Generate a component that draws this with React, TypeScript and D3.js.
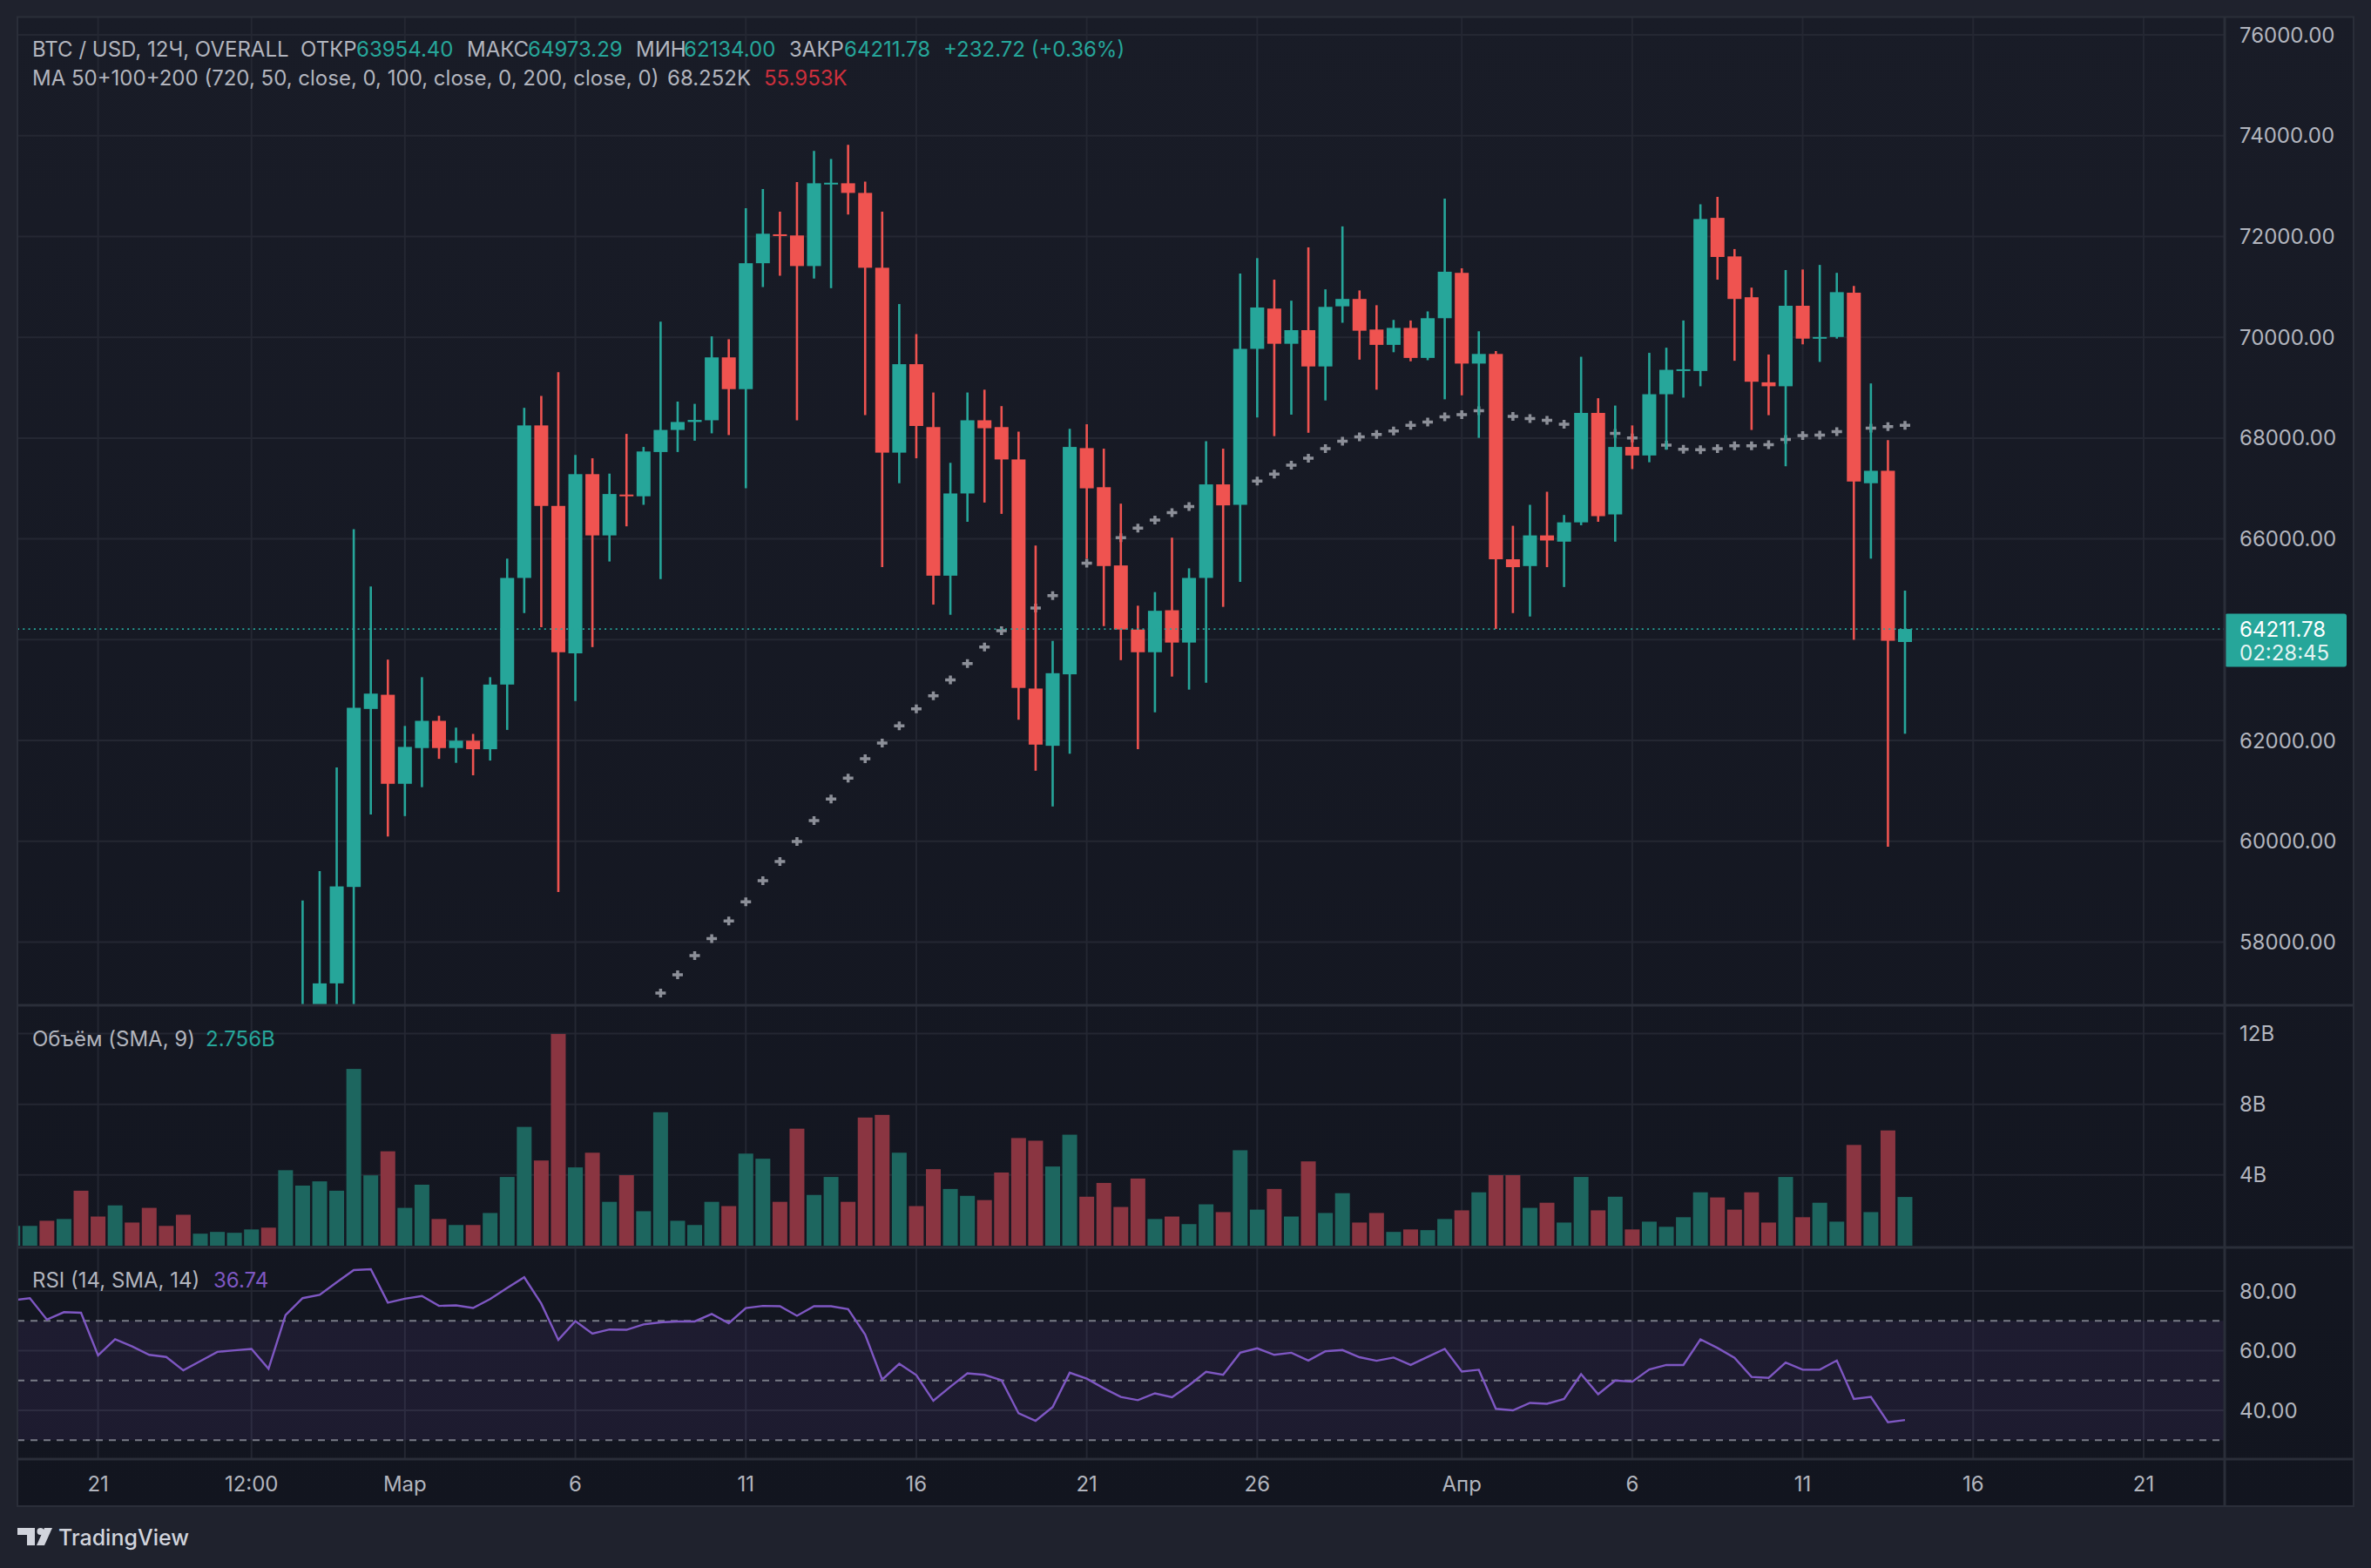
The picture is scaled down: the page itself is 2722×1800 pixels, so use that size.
import React from 'react'
import * as d3 from 'd3'

// 12h candles, first one is 18 Feb 2024 12:00 UTC
const startTime = Date.UTC(2024, 1, 18, 12)
const HALF_DAY = 12 * 3600 * 1000

const opens = [
  51700, 52150, 52300, 51800, 52600, 52200, 51500, 52100, 51600, 51200,
  51000, 50700, 51200, 51500, 51700, 51800, 51300, 54500, 56300, 57181,
  59094, 62626, 62907, 61141, 61850, 62390, 61850, 61996, 61827, 63110,
  65225, 68251, 66654, 63729, 67284, 66069, 66879, 66845, 67723, 68161,
  68319, 68353, 69601, 68971, 71469, 72043, 72020, 71413, 73055, 73055,
  72864, 71379, 67711, 69466, 68218, 65270, 66901, 68353, 68218, 67576,
  63031, 61895, 63313, 67801, 67025, 65473, 64201, 63751, 64584, 63943,
  65225, 67081, 66676, 69770, 70569, 69871, 70141, 69421, 70614, 70760,
  70153, 69849, 70186, 69590, 70378, 71278, 69478, 69669, 65596, 65461,
  66069, 65945, 66328, 68499, 66485, 67824, 67655, 68870, 69343, 69331,
  72369, 71604, 70794, 69106, 69028, 70625, 69973, 70006, 70884, 67104,
  67351, 63954.4,
]
const highs = [
  52400, 52500, 52450, 52950, 52900, 52400, 52300, 52200, 51900, 51600,
  51400, 51300, 51700, 51900, 52000, 51900, 54800, 58824, 59409, 61467,
  66192, 65056, 63605, 62289, 63256, 62491, 62255, 62131, 63256, 65608,
  68600, 68836, 69309, 67666, 67599, 67295, 68083, 67824, 70310, 68724,
  68679, 70018, 69961, 72560, 72943, 72493, 73078, 73696, 73539, 73820,
  73089, 72493, 70659, 70063, 68904, 67509, 68904, 68960, 68634, 68128,
  65866, 63976, 68184, 68274, 67790, 66699, 64674, 64944, 66024, 65416,
  67936, 67790, 71266, 71570, 71143, 70726, 71784, 70951, 72200, 70929,
  70636, 70344, 70333, 70513, 72751, 71368, 70119, 69725, 66260, 66676,
  66935, 66474, 69613, 68791, 68645, 68251, 69691, 69793, 70333, 72639,
  72785, 71750, 70985, 69658, 71334, 71345, 71435, 71278, 71019, 69084,
  67959, 64973.29,
]
const lows = [
  51500, 51800, 51600, 51000, 51600, 51000, 50900, 51200, 50700, 50800,
  50500, 50600, 51000, 51300, 51400, 50900, 51000, 54200, 55800, 56500,
  56300, 60534, 60095, 60500, 61074, 61636, 61557, 61310, 61602, 62210,
  64528, 64246, 58993, 62784, 63853, 65551, 66249, 66676, 65202, 67723,
  67948, 68094, 68060, 67003, 70996, 71221, 68353, 71165, 70974, 72436,
  68454, 65439, 67104, 67599, 64696, 64494, 66339, 66721, 66496, 62413,
  61400, 60691, 61738, 65608, 64269, 63594, 61828, 62559, 63268, 63009,
  63144, 64651, 65146, 68409, 68038, 68465, 68105, 68746, 70288, 69556,
  68960, 69703, 69523, 69545, 68769, 68848, 68004, 64213, 64528, 64460,
  65439, 65045, 66271, 66339, 65945, 67385, 67520, 67768, 68803, 69028,
  71143, 69534, 68161, 68454, 67441, 69860, 69511, 69973, 63999, 65608,
  59893, 62134.0,
]
const closes = [
  52150, 52300, 51800, 52600, 52200, 51500, 52100, 51600, 51200, 51000,
  50700, 51200, 51500, 51700, 51800, 51300, 54500, 56300, 57181, 59105,
  62649, 62930, 61141, 61873, 62390, 61850, 61996, 61827, 63110, 65225,
  68251, 66654, 63751, 67284, 66069, 66890, 66845, 67734, 68161, 68319,
  68360, 69601, 68971, 71469, 72054, 72009, 71413, 73055, 73066, 72864,
  71379, 67711, 69466, 68240, 65270, 66901, 68353, 68195, 67576, 63043,
  61918, 63335, 67824, 67003, 65461, 64201, 63751, 64573, 63943, 65225,
  67081, 66665, 69770, 70591, 69871, 70141, 69421, 70603, 70760, 70130,
  69849, 70186, 69590, 70378, 71300, 69478, 69669, 65596, 65439, 66069,
  65968, 66328, 68499, 66451, 67824, 67655, 68870, 69354, 69365, 72346,
  71593, 70760, 69118, 69028, 70625, 69973, 70006, 70895, 67138, 67351,
  63979.06, 64211.78,
]
// volume, billions
const volumes = [
  1.12, 1.12, 1.41, 1.51, 3.11, 1.65, 2.28, 1.31, 2.14, 1.12,
  1.75, 0.68, 0.78, 0.73, 0.92, 1.02, 4.27, 3.4, 3.64, 3.11,
  10.0, 3.98, 5.34, 2.14, 3.45, 1.51, 1.17, 1.17, 1.85, 3.89,
  6.72, 4.82, 11.98, 4.43, 5.26, 2.48, 3.99, 1.95, 7.55, 1.41,
  1.17, 2.48, 2.24, 5.21, 4.92, 2.48, 6.62, 2.87, 3.89, 2.48,
  7.25, 7.4, 5.26, 2.24, 4.33, 3.21, 2.82, 2.58, 4.14, 6.09,
  5.94, 4.48, 6.28, 2.77, 3.55, 2.19, 3.8, 1.51, 1.65, 1.22,
  2.34, 1.9, 5.4, 2.04, 3.21, 1.65, 4.77, 1.85, 2.97, 1.31,
  1.85, 0.78, 0.92, 0.88, 1.51, 2.0, 3.02, 3.99, 3.99, 2.14,
  2.43, 1.31, 3.89, 2.0, 2.77, 0.92, 1.36, 1.07, 1.61, 3.02,
  2.73, 2.04, 3.02, 1.31, 3.89, 1.61, 2.43, 1.36, 5.7, 1.9,
  6.52, 2.756,
]
const rsiValues = [
  76.9, 77.6, 70.4, 72.9, 72.7, 58.4, 63.8, 61.4, 58.6, 57.9,
  53.4, 56.5, 59.6, 60.1, 60.6, 53.9, 71.9, 77.6, 78.7, 82.9,
  87.0, 87.3, 76.1, 77.4, 78.3, 75.0, 75.2, 74.3, 77.3, 81.0,
  84.6, 75.8, 63.6, 69.9, 65.7, 67.1, 67.0, 68.8, 69.5, 69.8,
  69.8, 72.3, 69.2, 74.3, 75.0, 74.9, 71.7, 74.9, 74.9, 73.9,
  65.4, 50.3, 55.6, 51.8, 43.2, 47.9, 52.4, 51.9, 50.1, 39.0,
  36.5, 41.1, 52.6, 50.6, 47.4, 44.5, 43.4, 45.7, 44.4, 48.4,
  52.9, 51.9, 59.3, 60.8, 58.6, 59.3, 56.7, 59.8, 60.2, 57.8,
  56.6, 57.7, 55.2, 57.9, 60.6, 53.0, 53.6, 40.5, 40.0, 42.5,
  42.2, 43.8, 52.1, 45.4, 50.0, 49.6, 53.7, 55.2, 55.2, 63.8,
  60.9, 57.6, 51.2, 50.9, 56.0, 53.6, 53.6, 56.7, 43.8, 44.5,
  36.0, 36.74,
]
// MA 50 line, starts at candle 36
const maStart = 36
const maValues = [
  56250, 56620, 56990, 57350, 57733, 58070, 58419, 58801, 59218, 59600,
  59994, 60410, 60838, 61254, 61636, 61951, 62289, 62626, 62885, 63200,
  63526, 63853, 64179, 64400, 64629, 64876, 65200, 65518, 65780, 66024,
  66215, 66373, 66519, 66643, 66800, 66950, 67060, 67149, 67284, 67464,
  67599, 67790, 67936, 68026, 68071, 68139, 68251, 68319, 68420, 68465,
  68544, 68500, 68431, 68386, 68353, 68274, 68200, 68150, 68094, 68004,
  67930, 67858, 67779, 67768, 67790, 67846, 67846, 67869, 67970, 68049,
  68060, 68128, 68160, 68195, 68229, 68252,
]

const priceTicks = [58000, 60000, 62000, 64000, 66000, 68000, 70000, 72000, 74000, 76000]
const priceLabels = [58000, 60000, 62000, 66000, 68000, 70000, 72000, 74000, 76000]
const volumeTicks = [4, 8, 12]
const rsiTicks = [40, 60, 80]
const rsiLevels = [30, 50, 70]
const timeTicks = [
  { t: Date.UTC(2024, 1, 21), label: '21' },
  { t: Date.UTC(2024, 1, 25, 12), label: '12:00' },
  { t: Date.UTC(2024, 2, 1), label: 'Мар' },
  { t: Date.UTC(2024, 2, 6), label: '6' },
  { t: Date.UTC(2024, 2, 11), label: '11' },
  { t: Date.UTC(2024, 2, 16), label: '16' },
  { t: Date.UTC(2024, 2, 21), label: '21' },
  { t: Date.UTC(2024, 2, 26), label: '26' },
  { t: Date.UTC(2024, 3, 1), label: 'Апр' },
  { t: Date.UTC(2024, 3, 6), label: '6' },
  { t: Date.UTC(2024, 3, 11), label: '11' },
  { t: Date.UTC(2024, 3, 16), label: '16' },
  { t: Date.UTC(2024, 3, 21), label: '21' },
]

const UP = '#26a69a'
const DOWN = '#ef5350'
const VOL_UP = '#1d665f'
const VOL_DOWN = '#8a3541'
const TEXT = '#b2b5be'
const GRID = '#242732'
const BORDER = '#2a2e39'
const RSI_COLOR = '#7e57c2'
const FONT = 'Inter, "Noto Sans", sans-serif'

// layout
const L = 20
const R = 2554
const AXR = 2702
const TOP = 19.5
const PRICE_B = 1154
const VOL_B = 1432
const RSI_B = 1675
const AXIS_B = 1729

const timeOf = (i: number) => new Date(startTime + i * HALF_DAY)

export default function App() {
  const n = closes.length
  const x = d3.scaleUtc()
    .domain([timeOf(0), timeOf(n - 1)])
    .range([14.73, 2187])
  const yPrice = d3.scaleLinear().domain([58000, 76000]).range([1081.5, 40])
  const yVol = d3.scaleLinear().domain([0, 12]).range([1430, 1186.5])
  const yRsi = d3.scaleLinear().domain([40, 80]).range([1619, 1482])

  const idx = d3.range(n)
  const rsiLine = d3.line<number>()
    .x(i => x(timeOf(i)))
    .y(i => yRsi(rsiValues[i]))
  const last = n - 1
  const change = closes[last] - closes[last - 1]
  const pct = change / closes[last - 1] * 100
  const lastY = yPrice(closes[last])

  const header1 = [
    { t: 'BTC / USD, 12Ч, OVERALL', x: 37, c: TEXT },
    { t: 'ОТКР', x: 345, c: TEXT },
    { t: opens[last].toFixed(2), x: 409, c: UP },
    { t: 'МАКС', x: 536, c: TEXT },
    { t: highs[last].toFixed(2), x: 606, c: UP },
    { t: 'МИН', x: 730, c: TEXT },
    { t: lows[last].toFixed(2), x: 785, c: UP },
    { t: 'ЗАКР', x: 906, c: TEXT },
    { t: closes[last].toFixed(2), x: 969, c: UP },
    { t: `+${change.toFixed(2)} (+${pct.toFixed(2)}%)`, x: 1083, c: UP },
  ]

  return (
    <div style={{ position: 'absolute', left: 0, top: 0 }}>
      <svg width={2722} height={1800} style={{ display: 'block' }} fontFamily={FONT}>
        <defs>
          <linearGradient id="bg" x1="0" y1="0" x2="0" y2="1">
            <stop offset="0" stopColor="#191c27" />
            <stop offset="1" stopColor="#12151f" />
          </linearGradient>
          <clipPath id="cp-price"><rect x={L} y={TOP} width={R - L} height={PRICE_B - TOP} /></clipPath>
          <clipPath id="cp-vol"><rect x={L} y={PRICE_B} width={R - L} height={VOL_B - PRICE_B} /></clipPath>
          <clipPath id="cp-rsi"><rect x={L} y={VOL_B} width={R - L} height={RSI_B - VOL_B} /></clipPath>
        </defs>
        <rect width={2722} height={1800} fill="#1f222d" />
        <rect x={L} y={TOP} width={AXR - L} height={AXIS_B - TOP} fill="url(#bg)" />

        {/* grid */}
        {timeTicks.map((d, k) => (
          <line key={'vg' + k} x1={x(new Date(d.t))} x2={x(new Date(d.t))} y1={TOP} y2={RSI_B}
            stroke={GRID} strokeWidth={2} />
        ))}
        {priceTicks.map(p => (
          <line key={'pg' + p} x1={L} x2={R} y1={yPrice(p)} y2={yPrice(p)} stroke={GRID} strokeWidth={2} />
        ))}
        {volumeTicks.map(v => (
          <line key={'vgl' + v} x1={L} x2={R} y1={yVol(v)} y2={yVol(v)} stroke={GRID} strokeWidth={2} />
        ))}
        {rsiTicks.map(v => (
          <line key={'rg' + v} x1={L} x2={R} y1={yRsi(v)} y2={yRsi(v)} stroke={GRID} strokeWidth={2} />
        ))}

        {/* price pane */}
        <g clipPath="url(#cp-price)">
          {maValues.map((m, k) => {
            const cx = x(timeOf(maStart + k))
            const cy = yPrice(m)
            return (
              <path key={'ma' + k} d={`M${cx - 6},${cy}H${cx + 6}M${cx},${cy - 5}V${cy + 5}`}
                stroke="#8c8f98" strokeWidth={3.5} />
            )
          })}
          {idx.map(i => {
            const up = closes[i] >= opens[i]
            const c = up ? UP : DOWN
            const cx = x(timeOf(i))
            const top = yPrice(Math.max(opens[i], closes[i]))
            const bot = yPrice(Math.min(opens[i], closes[i]))
            return (
              <g key={'c' + i}>
                <line x1={cx} x2={cx} y1={yPrice(highs[i])} y2={yPrice(lows[i])} stroke={c} strokeWidth={2.6} />
                <rect x={cx - 8} y={top} width={16} height={Math.max(2, bot - top)} fill={c} />
              </g>
            )
          })}
          <line x1={L} x2={R} y1={lastY} y2={lastY} stroke={UP} strokeWidth={1.6} strokeDasharray="2 4.3" />
        </g>

        {/* volume pane */}
        <g clipPath="url(#cp-vol)">
          {idx.map(i => (
            <rect key={'v' + i} x={x(timeOf(i)) - 8.5} y={yVol(volumes[i])} width={17}
              height={yVol(0) - yVol(volumes[i])}
              fill={closes[i] >= opens[i] ? VOL_UP : VOL_DOWN} />
          ))}
        </g>

        {/* rsi pane */}
        <g clipPath="url(#cp-rsi)">
          <rect x={L} y={yRsi(70)} width={R - L} height={yRsi(30) - yRsi(70)} fill="rgba(126,87,194,0.1)" />
          {rsiLevels.map(v => (
            <line key={'rl' + v} x1={L} x2={R} y1={yRsi(v)} y2={yRsi(v)} stroke="#787b86"
              strokeWidth={2} strokeDasharray="8 7" />
          ))}
          <path d={rsiLine(idx) || ''} fill="none" stroke={RSI_COLOR} strokeWidth={2.4} />
        </g>

        {/* legends */}
        <g fontSize={24} dominantBaseline="central">
          {header1.map((s, k) => (
            <text key={'h' + k} x={s.x} y={56} fill={s.c}>{s.t}</text>
          ))}
          <text x={37} y={89.5} fill={TEXT}>MA 50+100+200 (720, 50, close, 0, 100, close, 0, 200, close, 0)</text>
          <text x={766} y={89.5} fill={TEXT}>{(maValues[maValues.length - 1] / 1000).toFixed(3)}K</text>
          <text x={877} y={89.5} fill="#cc2f3c">55.953K</text>
          <text x={37} y={1192} fill={TEXT}>Объём (SMA, 9)</text>
          <text x={236} y={1192} fill={UP}>{volumes[last].toFixed(3)}B</text>
          <text x={37} y={1469} fill={TEXT}>RSI (14, SMA, 14)</text>
          <text x={245} y={1469} fill={RSI_COLOR}>{rsiValues[last].toFixed(2)}</text>
        </g>

        {/* right axis */}
        <g fontSize={24} fill={TEXT} dominantBaseline="central">
          {priceLabels.map(p => (
            <text key={'pl' + p} x={2571} y={yPrice(p)}>{p.toFixed(2)}</text>
          ))}
          {volumeTicks.map(v => (
            <text key={'vl' + v} x={2571} y={yVol(v)}>{v}B</text>
          ))}
          {rsiTicks.map(v => (
            <text key={'rl' + v} x={2571} y={yRsi(v)}>{v.toFixed(2)}</text>
          ))}
        </g>
        <rect x={R} y={lastY - 17.5} width={140} height={61} rx={3} fill={UP} />
        <g fontSize={24} fill="#ffffff" dominantBaseline="central">
          <text x={2571} y={lastY}>{closes[last].toFixed(2)}</text>
          <text x={2571} y={lastY + 27} fillOpacity={0.9}>02:28:45</text>
        </g>

        {/* time axis */}
        <g fontSize={24} fill={TEXT} textAnchor="middle" dominantBaseline="central">
          {timeTicks.map((d, k) => (
            <text key={'tl' + k} x={x(new Date(d.t))} y={1703}>{d.label}</text>
          ))}
        </g>

        {/* separators and frame */}
        {[PRICE_B, VOL_B, RSI_B].map(yy => (
          <line key={'sep' + yy} x1={L} x2={AXR} y1={yy} y2={yy} stroke={BORDER} strokeWidth={3} />
        ))}
        <line x1={R} x2={R} y1={TOP} y2={AXIS_B} stroke={BORDER} strokeWidth={3} />
        <rect x={L} y={TOP} width={AXR - L} height={AXIS_B - TOP} fill="none" stroke={BORDER} strokeWidth={2} />

        {/* logo */}
        <g fill="#d1d4dc">
          <path d="M20,1754H40V1774H31V1762H20Z" />
          <circle cx={46.5} cy={1758} r={4} />
          <path d="M51,1754H60L51,1774H42Z" />
          <text x={67} y={1765} fontSize={25} fontWeight={500} dominantBaseline="central">TradingView</text>
        </g>
      </svg>
    </div>
  )
}
